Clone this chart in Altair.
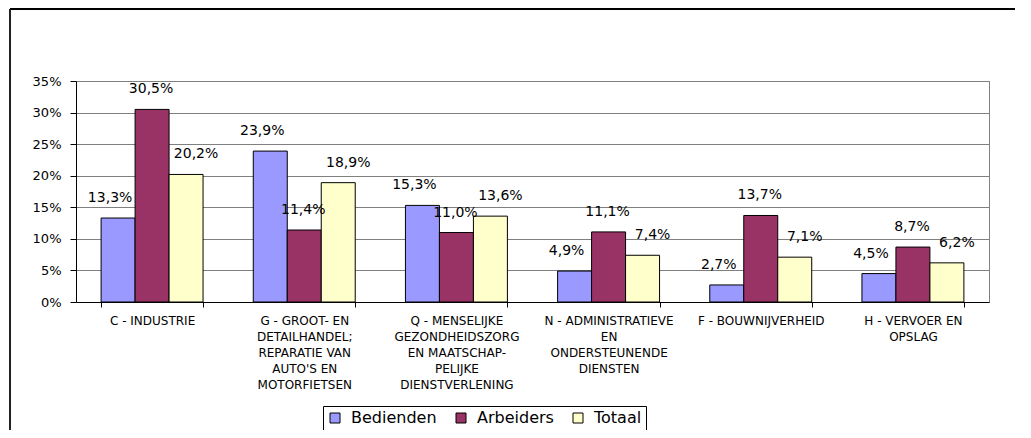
import altair as alt
import pandas as pd

categories = [
    "C - INDUSTRIE",
    "G - GROOT- EN|DETAILHANDEL;|REPARATIE VAN|AUTO'S EN|MOTORFIETSEN",
    "Q - MENSELIJKE|GEZONDHEIDSZORG|EN MAATSCHAP-|PELIJKE|DIENSTVERLENING",
    "N - ADMINISTRATIEVE|EN|ONDERSTEUNENDE|DIENSTEN",
    "F - BOUWNIJVERHEID",
    "H - VERVOER EN|OPSLAG",
]
series = ["Bedienden", "Arbeiders", "Totaal"]
bedienden = [13.3, 23.9, 15.3, 4.9, 2.7, 4.5]
arbeiders = [30.5, 11.4, 11.0, 11.1, 13.7, 8.7]
totaal = [20.2, 18.9, 13.6, 7.4, 7.1, 6.2]
colors = ["#9999FF", "#993366", "#FFFFCC"]
y_ticks = [0, 5, 10, 15, 20, 25, 30, 35]

rows = []
for s, vals in zip(series, [bedienden, arbeiders, totaal]):
    for c, v in zip(categories, vals):
        rows.append({"cat": c, "series": s, "value": v,
                     "label": f"{v:.1f}%".replace(".", ",")})
df = pd.DataFrame(rows)

FONT = "DejaVu Sans"

x = alt.X("cat:N", sort=categories,
          scale=alt.Scale(paddingInner=0.33, paddingOuter=0.165),
          axis=alt.Axis(title=None, labelExpr="split(datum.label, '|')",
                        labelAngle=0, tickBand="extent", tickSize=5,
                        tickColor="#000000", domainColor="#000000",
                        labelFont=FONT, labelFontSize=12, labelLineHeight=16,
                        labelPadding=8, labelOverlap=False, labelLimit=300,
                        labelColor="black", grid=False, labelBaseline="top"))
xo = alt.XOffset("series:N", sort=series,
                 scale=alt.Scale(paddingInner=0, paddingOuter=0))
y = alt.Y("value:Q", scale=alt.Scale(domain=[0, 35], nice=False),
          axis=alt.Axis(values=y_ticks, labelExpr="datum.value + '%'", title=None,
                        grid=True, gridColor="#808080", gridWidth=1,
                        tickSize=6, tickColor="#000000", domainColor="#000000",
                        labelPadding=9, labelFont=FONT, labelFontSize=13,
                        labelColor="black"))
color = alt.Color("series:N", sort=series,
                  scale=alt.Scale(domain=series, range=colors),
                  legend=alt.Legend(title=None, orient="none", legendX=247, legendY=325,
                                    direction="horizontal", symbolType="square",
                                    symbolSize=100, symbolStrokeColor="black",
                                    symbolStrokeWidth=1, labelFont=FONT,
                                    labelFontSize=16, labelColor="black",
                                    strokeColor="black", fillColor="white",
                                    padding=4, columnPadding=16, labelOffset=8))

base = alt.Chart(df)
bars = base.mark_bar(stroke="black", strokeWidth=1).encode(x=x, xOffset=xo, y=y, color=color)

shifts = {"Bedienden": -8, "Arbeiders": -1, "Totaal": 10}
texts = []
for s in series:
    texts.append(
        base.transform_filter(alt.datum.series == s)
        .mark_text(font=FONT, fontSize=14, baseline="middle", dy=-20, dx=shifts[s], color="black")
        .encode(x=x, xOffset=xo, y=y, text="label:N")
    )

frame_df = pd.DataFrame({"a": [0]})
top_line = alt.Chart(frame_df).mark_rule(color="black", strokeWidth=2).encode(
    x=alt.value(-66), x2=alt.value(939), y=alt.value(-72))
left_line = alt.Chart(frame_df).mark_rule(color="#222222", strokeWidth=2).encode(
    x=alt.value(-66), y=alt.value(-72), y2=alt.value(360))

chart = alt.layer(bars, *texts, top_line, left_line).properties(
    width=913, height=221,
    padding={"left": 68, "top": 73, "right": 26, "bottom": 128},
    autosize=alt.AutoSizeParams(type="none"),
    background="white",
).configure_view(stroke="#808080", strokeWidth=1)

chart.save("out.html", embed_options={"renderer": "svg", "actions": False})
